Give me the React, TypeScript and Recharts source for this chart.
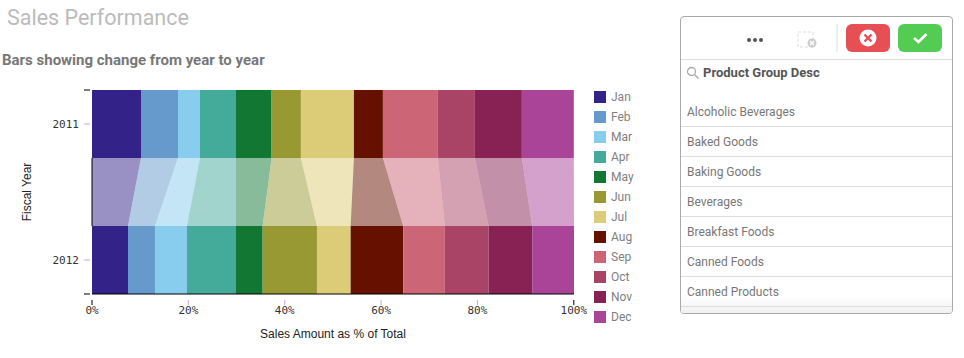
import React from "react";
import { Bar, BarChart, XAxis, YAxis } from "recharts";

const months = ["Jan", "Feb", "Mar", "Apr", "May", "Jun", "Jul", "Aug", "Sep", "Oct", "Nov", "Dec"];
const monthColors = ["#332288", "#6699cc", "#88ccee", "#44aa99", "#117733", "#999933", "#ddcc77", "#661100", "#cc6677", "#aa4466", "#882255", "#aa4499"];
const share2011 = [10.17, 7.68, 4.56, 7.47, 7.4, 6.08, 11.0, 6.02, 11.41, 7.68, 9.75, 10.78];
const share2012 = [7.47, 5.6, 6.64, 10.17, 5.54, 11.27, 6.99, 10.91, 8.65, 9.07, 9.05, 8.68];
const yearTicks = ["2011", "2012"];
const percentTicks = [0, 20, 40, 60, 80, 100];
const productGroups = ["Alcoholic Beverages", "Baked Goods", "Baking Goods", "Beverages", "Breakfast Foods", "Canned Foods", "Canned Products"];

const LINK_ROW = "link";

function makeRow(year: string, values: number[]) {
  const row: Record<string, string | number> = { year };
  months.forEach((m, i) => {
    row[m] = values[i];
  });
  return row;
}

// the middle row carries the 2011 shares, its shape bends them over to 2012
const rows = [makeRow("2011", share2011), makeRow(LINK_ROW, share2011), makeRow("2012", share2012)];

function sumBefore(values: number[], i: number) {
  return values.slice(0, i).reduce((a, b) => a + b, 0);
}

function Segment(props: any) {
  const { x, y, width, height, fill, payload, monthIndex } = props;
  if (payload.year !== LINK_ROW) {
    return <rect x={x} y={y} width={width} height={height} fill={fill} />;
  }
  const unit = width / share2011[monthIndex];
  const bottomLeft = x + (sumBefore(share2012, monthIndex) - sumBefore(share2011, monthIndex)) * unit;
  const bottomRight = bottomLeft + share2012[monthIndex] * unit;
  const points = `${x},${y} ${x + width},${y} ${bottomRight},${y + height} ${bottomLeft},${y + height}`;
  return (
    <g>
      <polygon points={points} fill={fill} fillOpacity={0.5} />
      {/* the y axis line only shows between the two bars */}
      {monthIndex === 0 && <line x1={x} x2={x} y1={y} y2={y + height} stroke="#000" />}
    </g>
  );
}

function PercentTick(props: any) {
  const { x, y, payload } = props;
  const edge = payload.value === 0 || payload.value === 100;
  return (
    <g>
      <line x1={x} x2={x} y1={y - 8} y2={y - 3} stroke={edge ? "#000" : "#c9a9cf"} />
      <text x={x} y={y + 6} textAnchor="middle" fontFamily="DejaVu Sans Mono" fontSize={11} fill="#333">
        {payload.value}%
      </text>
    </g>
  );
}

function YearTick(props: any) {
  const { x, y, payload } = props;
  const isFirst = payload.value === yearTicks[0];
  return (
    <g>
      <line x1={x} x2={x + 6} y1={y} y2={y} stroke="#c9a9cf" />
      <line x1={x} x2={x + 6} y1={isFirst ? y - 34 : y + 34} y2={isFirst ? y - 34 : y + 34} stroke="#000" />
      <text x={x - 5} y={y + 4} textAnchor="end" fontFamily="DejaVu Sans Mono" fontSize={11} fill="#333">
        {payload.value}
      </text>
    </g>
  );
}

function MonthLegend() {
  return (
    <div style={{ position: "absolute", left: 594, top: 90 }}>
      {months.map((m, i) => (
        <div key={m} style={{ height: 20, display: "flex", alignItems: "center" }}>
          <span style={{ width: 12, height: 12, background: monthColors[i], marginRight: 5, marginTop: -6 }} />
          <span style={{ font: "12px Roboto", color: "#808080", marginTop: -6 }}>{m}</span>
        </div>
      ))}
    </div>
  );
}

function SelectionPanel() {
  return (
    <div
      style={{
        position: "absolute",
        left: 680,
        top: 16,
        width: 271,
        height: 296,
        border: "1px solid #aaa",
        borderRadius: 4,
        overflow: "hidden",
        background: "#fff",
      }}
    >
      <svg width={271} height={42} style={{ position: "absolute", left: 0, top: 0 }}>
        <circle cx={68} cy={23} r={2} fill="#555" />
        <circle cx={74} cy={23} r={2} fill="#555" />
        <circle cx={80} cy={23} r={2} fill="#555" />
        <rect x={117} y={15} width={15} height={15} fill="none" stroke="#ddd" strokeDasharray="3 2" />
        <circle cx={131} cy={26} r={4.5} fill="#ccc" />
        <path d="M129 24l4 4M133 24l-4 4" stroke="#fff" strokeWidth={1.4} />
        <line x1={156} x2={156} y1={7} y2={35} stroke="#ddd" />
        <rect x={165} y={7} width={44} height={28} rx={6} fill="#e65055" />
        <circle cx={187} cy={21} r={8.5} fill="#fff" />
        <path d="M183.5 17.5l7 7M190.5 17.5l-7 7" stroke="#e65055" strokeWidth={2.4} />
        <rect x={217} y={7} width={44} height={28} rx={6} fill="#52cc52" />
        <path d="M233 21l4.5 4 8-8" fill="none" stroke="#fff" strokeWidth={2.6} />
      </svg>
      <div style={{ position: "absolute", left: 0, right: 0, top: 42, borderTop: "1px solid #ddd" }} />
      <svg width={14} height={14} style={{ position: "absolute", left: 5, top: 49 }}>
        <circle cx={5.5} cy={5.5} r={4} fill="none" stroke="#aaa" strokeWidth={1.3} />
        <line x1={8.5} y1={8.5} x2={12.5} y2={12.5} stroke="#aaa" strokeWidth={1.5} />
      </svg>
      <div style={{ position: "absolute", left: 22, top: 48, font: "bold 13px Roboto", color: "#555" }}>Product Group Desc</div>
      {productGroups.map((name, i) => (
        <div
          key={name}
          style={{
            position: "absolute",
            left: 0,
            right: 0,
            top: 81 + i * 30,
            height: 28,
            borderBottom: "1px solid #ddd",
            font: "12px Roboto",
            lineHeight: "29px",
            color: "#777",
            paddingLeft: 6,
          }}
        >
          {name}
        </div>
      ))}
      <div style={{ position: "absolute", left: 0, right: 0, top: 278, height: 18, background: "linear-gradient(#ffffff00, #f1f1f1)" }} />
      <div style={{ position: "absolute", left: 0, right: 0, top: 289, borderTop: "1px solid #ddd" }} />
    </div>
  );
}

export default function App() {
  return (
    <div style={{ position: "absolute", left: 0, top: 0, width: 964, height: 358, background: "#fff", overflow: "hidden" }}>
      <div style={{ position: "absolute", left: 7, top: 5, font: "21.5px Roboto", color: "#bbb", whiteSpace: "nowrap" }}>Sales Performance</div>
      <div style={{ position: "absolute", left: 2, top: 51, font: "bold 15px Roboto", color: "#777", whiteSpace: "nowrap" }}>Bars showing change from year to year</div>
      <BarChart
        width={640}
        height={358}
        data={rows}
        layout="vertical"
        barCategoryGap={0}
        margin={{ top: 90, right: 66, bottom: 0, left: 0 }}
        style={{ position: "absolute", left: 0, top: 0 }}
      >
        <XAxis
          type="number"
          domain={[0, 100]}
          ticks={percentTicks}
          height={64}
          interval={0}
          tick={<PercentTick />}
          tickLine={false}
          axisLine={{ stroke: "#000" }}
          tickMargin={8}
          label={{ value: "Sales Amount as % of Total", position: "insideBottom", offset: 20, fontFamily: "Liberation Sans", fontSize: 12, fill: "#222" }}
        />
        <YAxis
          type="category"
          dataKey="year"
          width={92}
          ticks={yearTicks}
          interval={0}
          tick={<YearTick />}
          tickLine={false}
          axisLine={false}
          label={{ value: "Fiscal Year", angle: -90, position: "insideLeft", offset: 27, style: { textAnchor: "middle" }, fontFamily: "Liberation Sans", fontSize: 12, fill: "#222" }}
        />
        {months.map((m, i) => (
          <Bar
            key={m}
            dataKey={m}
            stackId="share"
            fill={monthColors[i]}
            isAnimationActive={false}
            shape={(p: any) => <Segment {...p} monthIndex={i} />}
          />
        ))}
      </BarChart>
      <MonthLegend />
      <SelectionPanel />
    </div>
  );
}
